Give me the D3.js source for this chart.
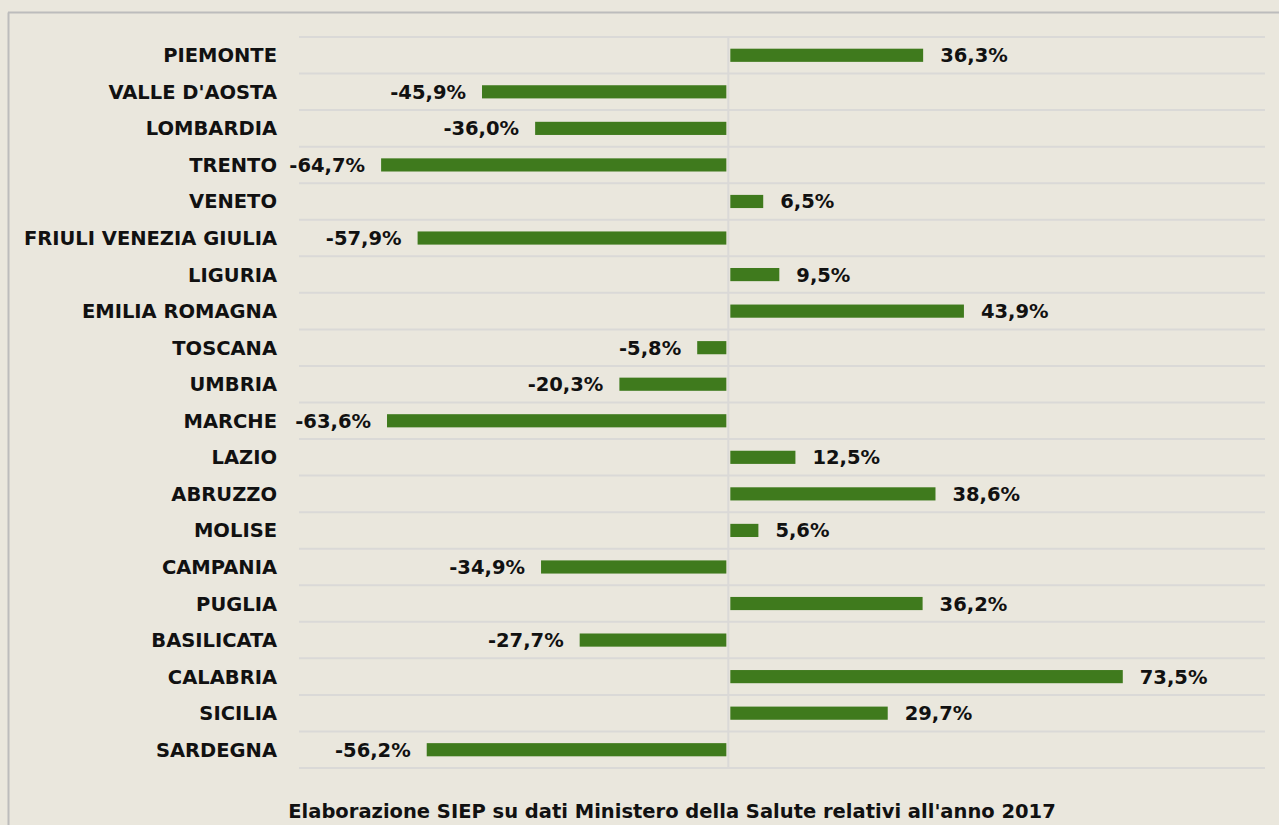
<!DOCTYPE html>
<html>
<head>
  <meta charset="utf-8">
  <title>Regioni</title>
  <script type="text/javascript" src="https://cdn.jsdelivr.net/npm/d3@7"></script>
  <style>
    body { margin: 0; background: #eae7dd; }
    text { font-family: "DejaVu Sans", sans-serif; font-weight: bold; fill: #111; }
  </style>
</head>
<body>
  <div id="container"></div>
  <script type="text/javascript">
    var regions = ['PIEMONTE', "VALLE D'AOSTA", 'LOMBARDIA', 'TRENTO', 'VENETO',
      'FRIULI VENEZIA GIULIA', 'LIGURIA', 'EMILIA ROMAGNA', 'TOSCANA', 'UMBRIA',
      'MARCHE', 'LAZIO', 'ABRUZZO', 'MOLISE', 'CAMPANIA', 'PUGLIA', 'BASILICATA',
      'CALABRIA', 'SICILIA', 'SARDEGNA'];
    var values = [36.3, -45.9, -36.0, -64.7, 6.5, -57.9, 9.5, 43.9, -5.8, -20.3,
      -63.6, 12.5, 38.6, 5.6, -34.9, 36.2, -27.7, 73.5, 29.7, -56.2];
    var caption = "Elaborazione SIEP su dati Ministero della Salute relativi all'anno 2017";

    function drawGraph() {
      var width = 1279, height = 825;
      var svg = d3.select('#container').append('svg')
        .attr('width', width).attr('height', height);

      svg.append('rect').attr('width', width).attr('height', height).attr('fill', '#eae7dd');
      // chart frame (top and left edges visible)
      svg.append('line').attr('x1', 8.5).attr('x2', 8.5).attr('y1', 12.5).attr('y2', height)
        .attr('stroke', '#bcbcbc').attr('stroke-width', 2);
      svg.append('line').attr('x1', 8).attr('x2', width).attr('y1', 12.5).attr('y2', 12.5)
        .attr('stroke', '#bcbcbc').attr('stroke-width', 2);

      var x = d3.scaleLinear().domain([-80, 100]).range([299, 1265]);
      var y = d3.scaleBand().domain(regions).range([37, 768])
        .paddingInner(0.64).paddingOuter(0.32);

      var gridY = d3.range(regions.length + 1).map(i => 37 + i * y.step());
      svg.selectAll('line.grid').data(gridY).enter().append('line')
        .attr('class', 'grid')
        .attr('x1', x.range()[0]).attr('x2', x.range()[1])
        .attr('y1', d => d).attr('y2', d => d)
        .attr('stroke', '#dad9d7').attr('stroke-width', 2);
      svg.append('line')
        .attr('x1', x(0)).attr('x2', x(0)).attr('y1', 37).attr('y2', 768)
        .attr('stroke', '#dad9d7').attr('stroke-width', 2);

      var data = regions.map((r, i) => ({name: r, value: values[i]}));

      svg.selectAll('rect.bar').data(data).enter().append('rect')
        .attr('class', 'bar')
        .attr('x', d => x(Math.min(0, d.value)) + (d.value < 0 ? 0 : 2))
        .attr('width', d => Math.abs(x(d.value) - x(0)) - 2)
        .attr('y', d => y(d.name))
        .attr('height', y.bandwidth())
        .attr('fill', '#3f7a1d');

      var yc = d => y(d.name) + y.bandwidth() / 2;

      svg.selectAll('text.cat').data(data).enter().append('text')
        .attr('class', 'cat')
        .attr('x', 277).attr('y', yc).attr('dy', '0.36em')
        .attr('text-anchor', 'end')
        .style('font-size', '19.5px')
        .text(d => d.name);

      var fmt = v => v.toFixed(1).replace('.', ',') + '%';
      svg.selectAll('text.val').data(data).enter().append('text')
        .attr('class', 'val')
        .attr('x', d => d.value < 0 ? x(d.value) - 16 : x(d.value) + 17)
        .attr('y', yc).attr('dy', '0.36em')
        .attr('text-anchor', d => d.value < 0 ? 'end' : 'start')
        .style('font-size', '19.5px')
        .text(d => fmt(d.value));

      svg.append('text')
        .attr('x', 672).attr('y', 811).attr('dy', '0.36em')
        .attr('text-anchor', 'middle')
        .style('font-size', '19.5px')
        .text(caption);
    }

    drawGraph();
  </script>
</body>
</html>
